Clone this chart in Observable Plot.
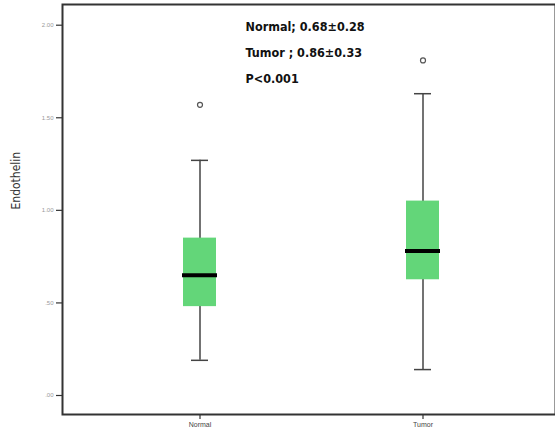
<!DOCTYPE html>
<html>
<head>
<meta charset="utf-8">
<script src="https://cdn.jsdelivr.net/npm/d3@7"></script>
<script src="https://cdn.jsdelivr.net/npm/@observablehq/plot@0.6"></script>
<style>
  html, body { margin: 0; padding: 0; background: #fff; }
  #chart svg { display: block; }
</style>
</head>
<body>
<div id="chart"></div>
<script>
const groups = ["Normal", "Tumor"];
const lowerWhisker = [0.19, 0.14];
const q1 = [0.48, 0.625];
const median = [0.65, 0.78];
const q3 = [0.85, 1.05];
const upperWhisker = [1.27, 1.63];
const outlierGroup = ["Normal", "Tumor"];
const outlierValue = [1.57, 1.81];
const yTicks = [0, 0.5, 1.0, 1.5, 2.0];
const yTickLabels = [".00", ".50", "1.00", "1.50", "2.00"];
const annotations = ["Normal; 0.68±0.28", "Tumor ; 0.86±0.33", "P<0.001"];
const yLabel = "Endothelin";

const boxes = groups.map((g, i) => ({
  group: g, lo: lowerWhisker[i], q1: q1[i], med: median[i], q3: q3[i], hi: upperWhisker[i]
}));
const outliers = outlierGroup.map((g, i) => ({group: g, value: outlierValue[i]}));

const noteFont = "DejaVu Sans Condensed, DejaVu Sans, sans-serif";
const noteMarks = annotations.map((t, i) =>
  Plot.text([t], {frameAnchor: "top-left", textAnchor: "start", dx: 183, dy: 18 + 26 * i,
    fontSize: 12.5, fontWeight: "bold", fill: "#111", fontFamily: noteFont})
);

const chart = Plot.plot({
  width: 555,
  height: 439,
  marginLeft: 62,
  marginRight: 0,
  marginTop: 4,
  marginBottom: 25,
  style: {fontFamily: "Liberation Sans, Arial, sans-serif", background: "#fff"},
  x: {type: "band", domain: groups, range: [87.5, 533.5], padding: 0, label: null},
  y: {domain: [0, 2], range: [395, 24.7], label: null},
  marks: [
    Plot.ruleX(boxes, {x: "group", y1: "lo", y2: "hi", stroke: "#444", strokeWidth: 1.5}),
    Plot.tickY(boxes, {x: "group", y: "lo", stroke: "#444", strokeWidth: 1.5, insetLeft: 103, insetRight: 103}),
    Plot.tickY(boxes, {x: "group", y: "hi", stroke: "#444", strokeWidth: 1.5, insetLeft: 103, insetRight: 103}),
    Plot.barY(boxes, {x: "group", y1: "q1", y2: "q3", fill: "#63d679", insetLeft: 95, insetRight: 95}),
    Plot.tickY(boxes, {x: "group", y: "med", stroke: "#000", strokeWidth: 4, insetLeft: 94, insetRight: 94}),
    Plot.dot(outliers, {x: "group", y: "value", r: 2.5, stroke: "#555", strokeWidth: 1.2, fill: "none"}),
    ...noteMarks,
    Plot.axisY({ticks: yTicks, tickFormat: (d) => yTickLabels[yTicks.indexOf(d)], tickSize: 6, tickPadding: 3, fontSize: 6, fill: "#999", stroke: "#333", strokeWidth: 1.2, strokeOpacity: 1, label: null}),
    Plot.axisX({tickSize: 5, tickPadding: 3, fontSize: 7, fill: "#444", stroke: "#333", strokeWidth: 1.2, strokeOpacity: 1, label: null}),
    Plot.text([yLabel], {frameAnchor: "left", rotate: -90, dx: -46, fontSize: 12, fill: "#333", fontFamily: noteFont}),
    Plot.frame({stroke: "#333", strokeWidth: 2})
  ]
});
document.getElementById("chart").appendChild(chart);
</script>
</body>
</html>
